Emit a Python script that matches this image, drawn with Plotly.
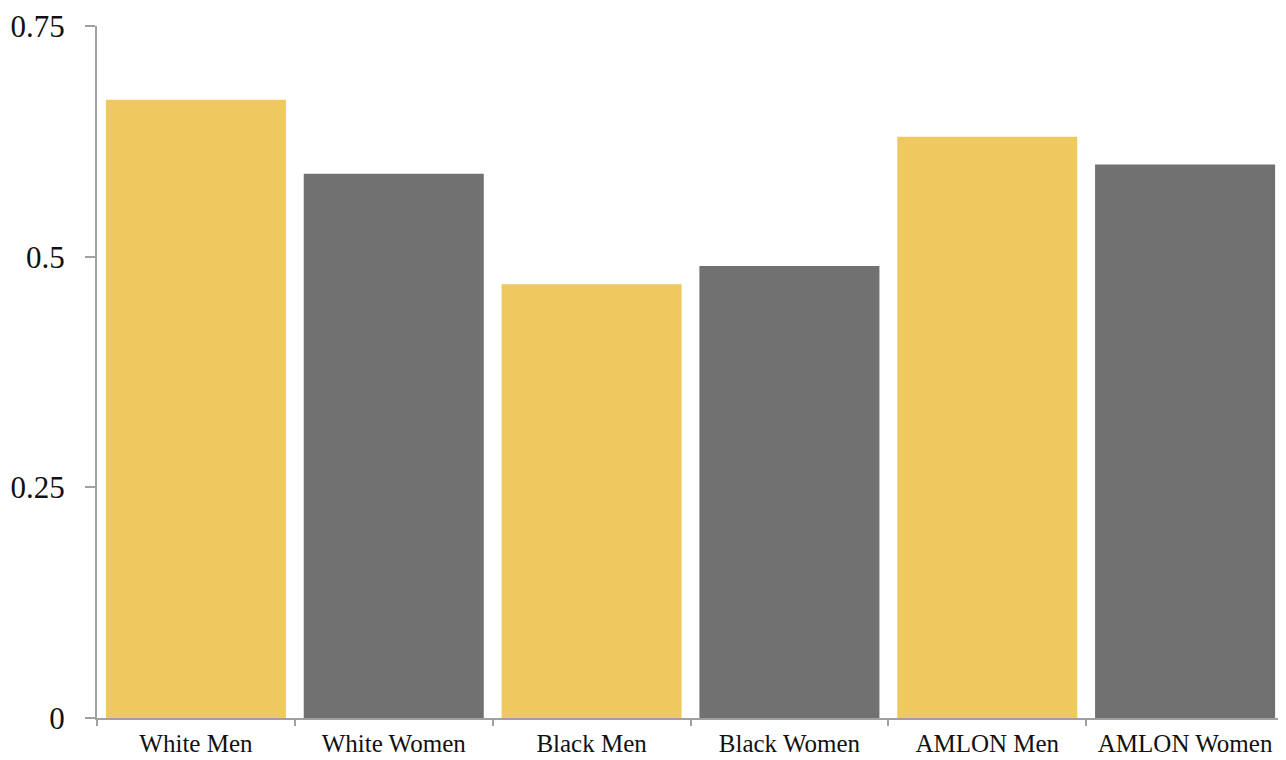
import plotly.graph_objects as go

categories = ["White Men", "White Women", "Black Men", "Black Women", "AMLON Men", "AMLON Women"]
values = [0.67, 0.59, 0.47, 0.49, 0.63, 0.60]
colors = ["#EDC95F", "#717171", "#EDC95F", "#717171", "#EDC95F", "#717171"]
y_ticks = [0, 0.25, 0.5, 0.75]

fig = go.Figure(go.Bar(x=categories, y=values, marker=dict(color=colors, line=dict(width=0))))

fig.update_layout(
    width=1278, height=752,
    margin=dict(l=89, r=2, t=18, b=42),
    paper_bgcolor="white", plot_bgcolor="white",
    bargap=0.09,
    showlegend=False,
    font=dict(family="Liberation Serif", color="#111111"),
)
fig.update_xaxes(
    type="category", showgrid=False, showline=True, linecolor="#A0A0A0", linewidth=2,
    ticks="outside", tickson="boundaries", ticklen=6, tickcolor="#A0A0A0", tickwidth=2,
    tickfont=dict(size=25), ticklabelstandoff=2, automargin=False,
)
fig.update_yaxes(
    range=[0, 0.75], tickvals=y_ticks, showgrid=False, zeroline=False,
    showline=True, linecolor="#A0A0A0", linewidth=2,
    ticks="outside", ticklen=10, tickcolor="#A0A0A0", tickwidth=2,
    tickfont=dict(size=31), ticklabelstandoff=14, automargin=False,
)

fig.write_html("out.html")
